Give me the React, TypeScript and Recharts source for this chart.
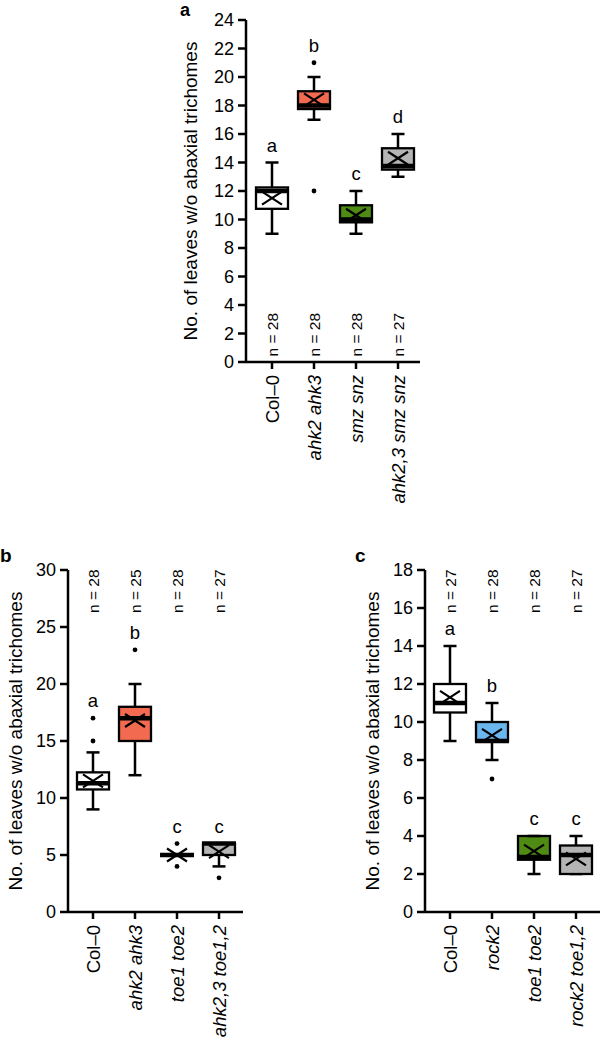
import { Bar, ComposedChart, Scatter, XAxis, YAxis } from "recharts";

const FONT = '"Liberation Sans", Arial, Helvetica, sans-serif';
const TITLE = "No. of leaves w/o abaxial trichomes";

const WHITE = "#ffffff";
const RED = "#f26a4f";
const GREEN = "#4e8a14";
const GREY = "#b4b4b4";
const BLUE = "#6ab6ee";

// panel a
const A_NAMES = ["Col–0", "ahk2 ahk3", "smz snz", "ahk2,3 smz snz"];
const A_N = [28, 28, 28, 27];
const A_LO = [9, 17, 9, 13];
const A_Q1 = [10.75, 17.75, 9.8, 13.5];
const A_MED = [12, 18, 10, 13.75];
const A_Q3 = [12.25, 19, 11, 15];
const A_HI = [14, 20, 12, 16];
const A_MEAN = [11.5, 18.4, 10.3, 14.3];
const A_OUT = [[], [21, 12], [], []];
const A_LETTERS = ["a", "b", "c", "d"];
const A_COLORS = [WHITE, RED, GREEN, GREY];
const A_TICKS = [0, 2, 4, 6, 8, 10, 12, 14, 16, 18, 20, 22, 24];

// panel b
const B_NAMES = ["Col–0", "ahk2 ahk3", "toe1 toe2", "ahk2,3 toe1,2"];
const B_N = [28, 25, 28, 27];
const B_LO = [9, 12, 5, 4];
const B_Q1 = [10.75, 15, 5, 5];
const B_MED = [11.3, 17, 5, 6];
const B_Q3 = [12.25, 18, 5, 6];
const B_HI = [14, 20, 5, 6];
const B_MEAN = [11.5, 16.8, 5, 5.3];
const B_OUT = [[15, 17], [23], [6, 4], [3]];
const B_LETTERS = ["a", "b", "c", "c"];
const B_COLORS = [WHITE, RED, WHITE, GREY];
const B_TICKS = [0, 5, 10, 15, 20, 25, 30];

// panel c
const C_NAMES = ["Col–0", "rock2", "toe1 toe2", "rock2 toe1,2"];
const C_N = [27, 28, 28, 27];
const C_LO = [9, 8, 2, 2];
const C_Q1 = [10.5, 9, 2.75, 2];
const C_MED = [11, 9, 2.9, 3];
const C_Q3 = [12, 10, 4, 3.5];
const C_HI = [14, 11, 4, 4];
const C_MEAN = [11.3, 9.3, 3.2, 2.8];
const C_OUT = [[], [7], [], []];
const C_LETTERS = ["a", "b", "c", "c"];
const C_COLORS = [WHITE, BLUE, GREEN, GREY];
const C_TICKS = [0, 2, 4, 6, 8, 10, 12, 14, 16, 18];

function buildRows(
  names: string[],
  n: number[],
  lo: number[],
  q1: number[],
  med: number[],
  q3: number[],
  hi: number[],
  mean: number[],
  out: number[][],
  letters: string[],
  colors: string[]
) {
  return names.map((name, i) => ({
    name,
    n: n[i],
    base: lo[i],
    wLow: q1[i] - lo[i],
    box: q3[i] - q1[i],
    wHigh: hi[i] - q3[i],
    med: med[i],
    mean: mean[i],
    out1: out[i][0] ?? null,
    out2: out[i][1] ?? null,
    top: Math.max(hi[i], ...out[i]),
    letter: letters[i],
    color: colors[i],
  }));
}

const rowsA = buildRows(A_NAMES, A_N, A_LO, A_Q1, A_MED, A_Q3, A_HI, A_MEAN, A_OUT, A_LETTERS, A_COLORS);
const rowsB = buildRows(B_NAMES, B_N, B_LO, B_Q1, B_MED, B_Q3, B_HI, B_MEAN, B_OUT, B_LETTERS, B_COLORS);
const rowsC = buildRows(C_NAMES, C_N, C_LO, C_Q1, C_MED, C_Q3, C_HI, C_MEAN, C_OUT, C_LETTERS, C_COLORS);

const LW = 2.5;

const whiskerLow = (p: any) => {
  const cx = p.x + p.width / 2;
  const yb = p.y + p.height;
  return (
    <g>
      <line x1={cx} x2={cx} y1={p.y} y2={yb} stroke="#000" strokeWidth={LW} />
      <line x1={cx - 6.5} x2={cx + 6.5} y1={yb} y2={yb} stroke="#000" strokeWidth={LW} />
    </g>
  );
};

const whiskerHigh = (p: any) => {
  const cx = p.x + p.width / 2;
  return (
    <g>
      <line x1={cx} x2={cx} y1={p.y} y2={p.y + p.height} stroke="#000" strokeWidth={LW} />
      <line x1={cx - 6.5} x2={cx + 6.5} y1={p.y} y2={p.y} stroke="#000" strokeWidth={LW} />
    </g>
  );
};

const boxShape = (p: any) => (
  <rect
    x={p.x}
    y={p.y}
    width={p.width}
    height={p.height}
    fill={p.payload.color}
    stroke="#000"
    strokeWidth={2.3}
  />
);

const medianShape = (p: any) => (
  <line x1={p.cx - 17} x2={p.cx + 17} y1={p.cy} y2={p.cy} stroke="#000" strokeWidth={4.5} />
);

const meanShape = (p: any) => (
  <path
    d={`M${p.cx - 10},${p.cy - 6.5}L${p.cx + 10},${p.cy + 6.5}M${p.cx - 10},${p.cy + 6.5}L${p.cx + 10},${p.cy - 6.5}`}
    stroke="#000"
    strokeWidth={2.2}
    fill="none"
  />
);

const dotShape = (key: string) => (p: any) =>
  p.payload[key] == null ? <g /> : <circle cx={p.cx} cy={p.cy} r={2.4} fill="#000" />;

const letterShape = (p: any) => (
  <text x={p.cx} y={p.cy - 11} textAnchor="middle" fontSize={18.5} fill="#000" fontFamily={FONT}>
    {p.payload.letter}
  </text>
);

function CatTick(props: any) {
  const { x, y, payload, index, rows, nDy } = props;
  const name = payload.value;
  const roman = String(name).startsWith("Col");
  const n = rows[index]?.n;
  return (
    <g>
      <text
        transform={`translate(${x},${y}) rotate(-90)`}
        textAnchor="end"
        dominantBaseline="central"
        fontSize={18.5}
        fontStyle={roman ? "normal" : "italic"}
        fill="#000"
        fontFamily={FONT}
      >
        {name}
      </text>
      <text
        transform={`translate(${x},${y + nDy}) rotate(-90)`}
        textAnchor="start"
        dominantBaseline="central"
        fontSize={15.5}
        fill="#000"
        stroke="none"
        fontFamily={FONT}
      >
        {`n = ${n}`}
      </text>
    </g>
  );
}

function YTitle(props: any) {
  const vb = props.viewBox;
  const cy = vb && vb.height ? vb.y + vb.height / 2 : props.cy;
  return (
    <text
      transform={`translate(${props.cx},${cy}) rotate(-90)`}
      textAnchor="middle"
      dominantBaseline="central"
      fontSize={19}
      fill="#000"
      fontFamily={FONT}
    >
      {TITLE}
    </text>
  );
}

function Panel(props: any) {
  const { rows, width, height, margin, yMax, ticks, padding, titleX, nDy } = props;
  return (
    <ComposedChart width={width} height={height} data={rows} margin={margin} style={{ fontFamily: FONT }}>
      <XAxis
        dataKey="name"
        type="category"
        interval={0}
        height={110}
        padding={padding}
        axisLine={{ stroke: "#000", strokeWidth: LW }}
        tickLine={{ stroke: "#000", strokeWidth: LW }}
        tickSize={7}
        tickMargin={6}
        tick={(p: any) => <CatTick {...p} rows={rows} nDy={nDy} />}
      />
      <YAxis
        type="number"
        domain={[0, yMax]}
        ticks={ticks}
        interval={0}
        width={60}
        axisLine={{ stroke: "#000", strokeWidth: LW }}
        tickLine={{ stroke: "#000", strokeWidth: LW }}
        tickSize={8}
        tickMargin={4}
        tick={{ fill: "#000", fontSize: 18, fontFamily: FONT }}
        label={<YTitle cx={titleX} cy={191} />}
      />
      <Bar dataKey="base" stackId="s" barSize={32} shape={() => <g />} isAnimationActive={false} />
      <Bar dataKey="wLow" stackId="s" barSize={32} shape={whiskerLow} isAnimationActive={false} />
      <Bar dataKey="box" stackId="s" barSize={32} shape={boxShape} isAnimationActive={false} />
      <Bar dataKey="wHigh" stackId="s" barSize={32} shape={whiskerHigh} isAnimationActive={false} />
      <Scatter dataKey="med" shape={medianShape} isAnimationActive={false} />
      <Scatter dataKey="mean" shape={meanShape} isAnimationActive={false} />
      <Scatter dataKey="out1" shape={dotShape("out1")} isAnimationActive={false} />
      <Scatter dataKey="out2" shape={dotShape("out2")} isAnimationActive={false} />
      <Scatter dataKey="top" shape={letterShape} isAnimationActive={false} />
    </ComposedChart>
  );
}

export default function App() {
  return (
    <div
      style={{
        position: "absolute",
        left: 0,
        top: 0,
        width: 601,
        height: 1043,
        background: "#fff",
        overflow: "hidden",
        fontFamily: FONT,
      }}
    >
      <div style={{ position: "absolute", left: 0, top: 0 }}>
        <Panel
          rows={rowsA}
          width={450}
          height={525}
          margin={{ top: 20, right: 30, bottom: 53, left: 186 }}
          yMax={24}
          ticks={A_TICKS}
          padding={{ left: 5, right: 1 }}
          titleX={190}
          nDy={-18.5}
        />
      </div>
      <div style={{ position: "absolute", left: 0, top: 480 }}>
        <Panel
          rows={rowsB}
          width={300}
          height={563}
          margin={{ top: 90, right: 57, bottom: 21, left: 8 }}
          yMax={30}
          ticks={B_TICKS}
          padding={{ left: 4, right: 3 }}
          titleX={15}
          nDy={-312}
        />
      </div>
      <div style={{ position: "absolute", left: 300, top: 480 }}>
        <Panel
          rows={rowsC}
          width={301}
          height={563}
          margin={{ top: 90, right: 1, bottom: 21, left: 65 }}
          yMax={18}
          ticks={C_TICKS}
          padding={{ left: 4, right: 3 }}
          titleX={72}
          nDy={-312}
        />
      </div>
      <svg
        width={601}
        height={1043}
        style={{ position: "absolute", left: 0, top: 0, pointerEvents: "none" }}
      >
        <text x={180} y={16} fontSize={18} fontWeight="bold" fontFamily={FONT} fill="#000">
          a
        </text>
        <text x={0} y={562} fontSize={19} fontWeight="bold" fontFamily={FONT} fill="#000">
          b
        </text>
        <text x={355} y={562} fontSize={19} fontWeight="bold" fontFamily={FONT} fill="#000">
          c
        </text>
      </svg>
    </div>
  );
}
